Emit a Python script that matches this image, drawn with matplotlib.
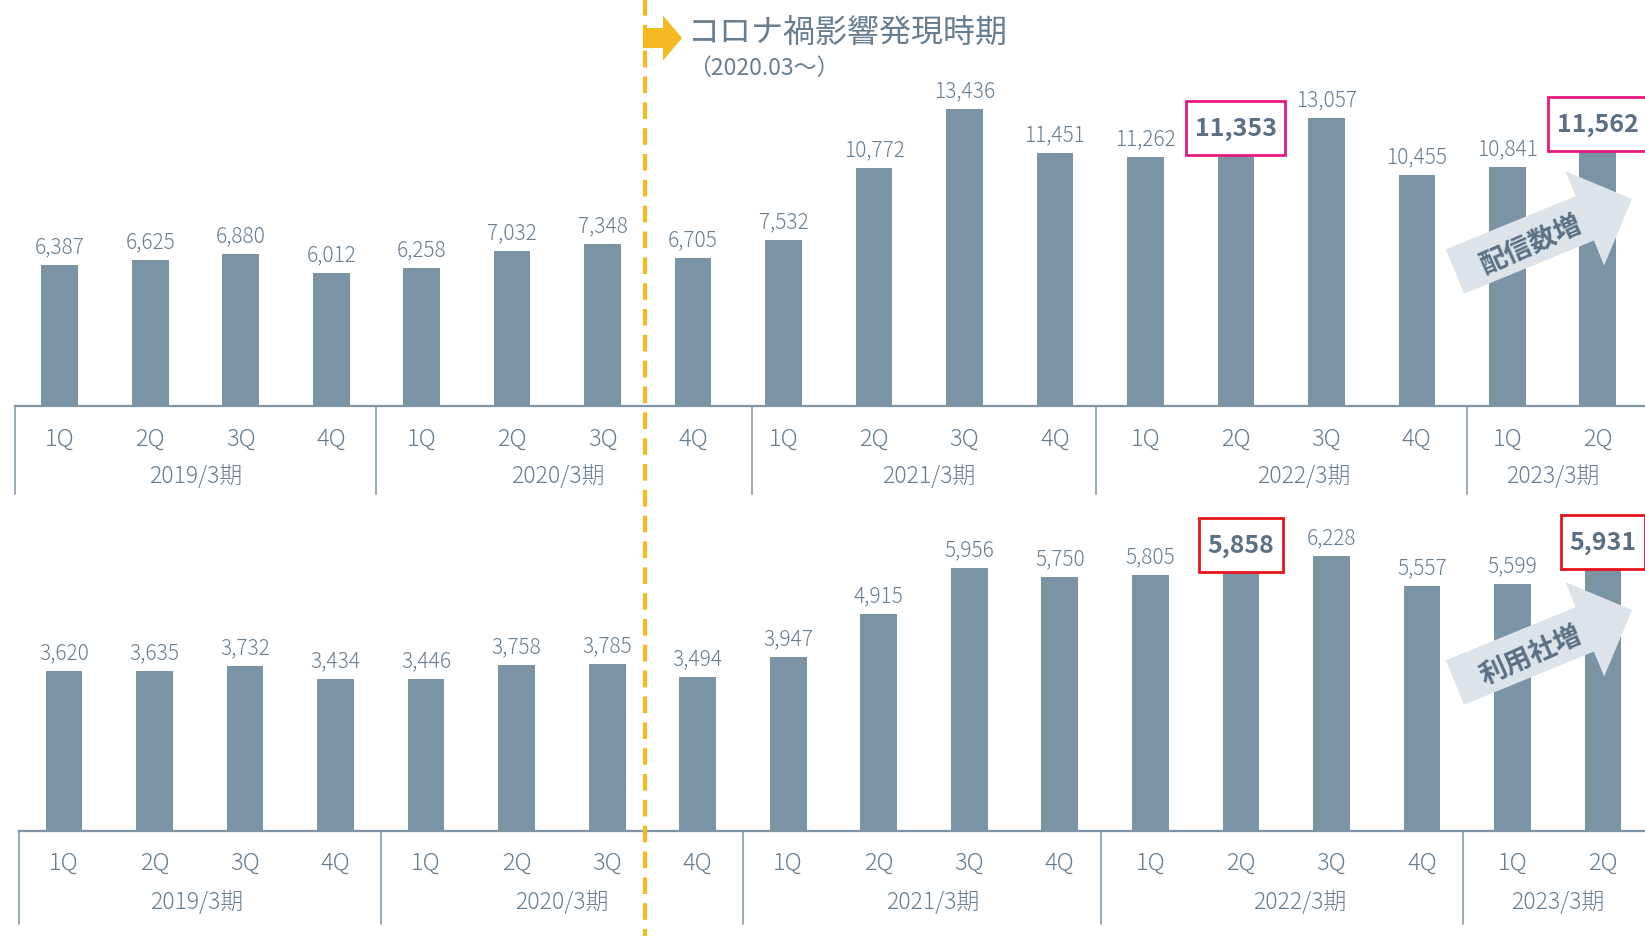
import numpy as np
import matplotlib.pyplot as plt
from matplotlib.patches import FancyArrow, Rectangle

plt.rcParams['font.family'] = ['Noto Sans CJK JP', 'DejaVu Sans']

quarters = ['1Q', '2Q', '3Q', '4Q'] * 4 + ['1Q', '2Q']
years = ['2019/3期', '2020/3期', '2021/3期', '2022/3期', '2023/3期']
deliveries = [6387, 6625, 6880, 6012, 6258, 7032, 7348, 6705, 7532,
              10772, 13436, 11451, 11262, 11353, 13057, 10455, 10841, 11562]
companies = [3620, 3635, 3732, 3434, 3446, 3758, 3785, 3494, 3947,
             4915, 5956, 5750, 5805, 5858, 6228, 5557, 5599, 5931]
highlight = [13, 17]

BAR = '#7a94a6'
TXT = '#677d90'
LINE = '#7f95a6'

W, H = 1645, 937
fig = plt.figure(figsize=(W / 100, H / 100), dpi=100)

# axes placed in pixel units so both panels line up with the reference
ax1 = fig.add_axes([0, (H - 407) / H, 1, 407 / H])
ax2 = fig.add_axes([0, (H - 832) / H, 1, 362 / H])

# overlay in pixel coordinates for annotations
ov = fig.add_axes([0, 0, 1, 1], zorder=5)
ov.set_xlim(0, W)
ov.set_ylim(H, 0)
ov.axis('off')
ov.patch.set_alpha(0)

boxed = []


def panel(ax, values, x0, step, ymax, boxcolor, sep_drop, q_drop, y_drop, year_x, seps):
    ax.patch.set_alpha(0)
    x = np.arange(len(values))
    left = -x0 / step
    right = (W - x0) / step
    ax.set_xlim(left, right)
    ax.set_ylim(0, ymax)
    ax.bar(x, values, width=0.405, color=BAR, zorder=2)
    for s in ax.spines.values():
        s.set_visible(False)
    ax.set_yticks([])
    ax.set_xticks(x)
    ax.set_xticklabels(quarters, fontsize=17, color=TXT, fontweight='light')
    ax.tick_params(axis='x', length=0, pad=q_drop)
    ax.plot([-0.5, right], [0, 0], color=LINE, lw=1.6, clip_on=False, zorder=3)
    tr = ax.get_xaxis_transform()
    for s in seps:
        ax.plot([s, s], [0, sep_drop], color=LINE, lw=1.1, transform=tr, clip_on=False)
    for yx, yl in zip(year_x, years):
        ax.text(yx, y_drop, yl, transform=tr, ha='center', va='center',
                fontsize=16.5, color=TXT, fontweight='light')
    for i, v in enumerate(values):
        if i in highlight:
            t = ax.annotate(f'{v:,}', (i, v), xytext=(0, 19.5), textcoords='offset points',
                            ha='center', va='center', fontsize=18, fontweight='bold',
                            color='#5b7084', annotation_clip=False)
            boxed.append((ax, t, i, v, boxcolor))
        else:
            ax.annotate(f'{v:,}', (i, v), xytext=(0, 13.5), textcoords='offset points',
                        ha='center', va='center', fontsize=15, color=TXT,
                        fontweight='light')


panel(ax1, deliveries, 59.8, 90.47, 407 / 0.02209, '#e6197f',
      -88 / 407, 14, -70 / 407, [1.5, 5.5, 9.6, 13.75, 16.5],
      [-0.5, 3.5, 7.65, 11.45, 15.55])
panel(ax2, companies, 64.0, 90.53, 362 / 0.04415, '#e8141c',
      -93 / 362, 13.5, -71 / 362, [1.47, 5.5, 9.6, 13.65, 16.5],
      [-0.5, 3.5, 7.5, 11.45, 15.45])

# boxes around the highlighted values, sized from the rendered text
fig.canvas.draw()
for ax, t, i, v, c in boxed:
    ext = t.get_window_extent()
    px, py = ax.transData.transform((i, v))
    bw = ext.width + 17
    ov.add_patch(Rectangle((px - bw / 2, H - py - 54), bw, 54, fc='white',
                           ec=c, lw=2, zorder=1))
    t.remove()
    ov.text(px, H - py - 27, t.get_text(), ha='center', va='center', fontsize=18,
            fontweight='bold', color='#5b7084', zorder=2)

ov.plot([645, 645], [0, H], color='#f5b921', lw=3, dashes=(4, 2.2), zorder=6)
ov.add_patch(FancyArrow(643, 39, 39, 0, width=20, head_width=45, head_length=19,
                        length_includes_head=True, color='#f5b921', lw=0, zorder=6))
ov.text(688, 33, 'コロナ禍影響発現時期', fontsize=23, color=TXT, va='center', ha='left')
ov.text(688, 68, '（2020.03～）', fontsize=16.5, color=TXT, va='center', ha='left')

for dy, label in [(0, '配信数増'), (411, '利用社増')]:
    ov.add_patch(FancyArrow(1455, 272.5 + dy, 177, -72.5, width=48, head_width=102,
                            head_length=51, length_includes_head=True,
                            color='#dce3e9', lw=0, zorder=3))
    ov.text(1531, 244 + dy, label, fontsize=19.5, fontweight='bold', color='#5b7084',
            rotation=24, ha='center', va='center', rotation_mode='anchor', zorder=4)

fig.savefig('out.png', dpi=100)
